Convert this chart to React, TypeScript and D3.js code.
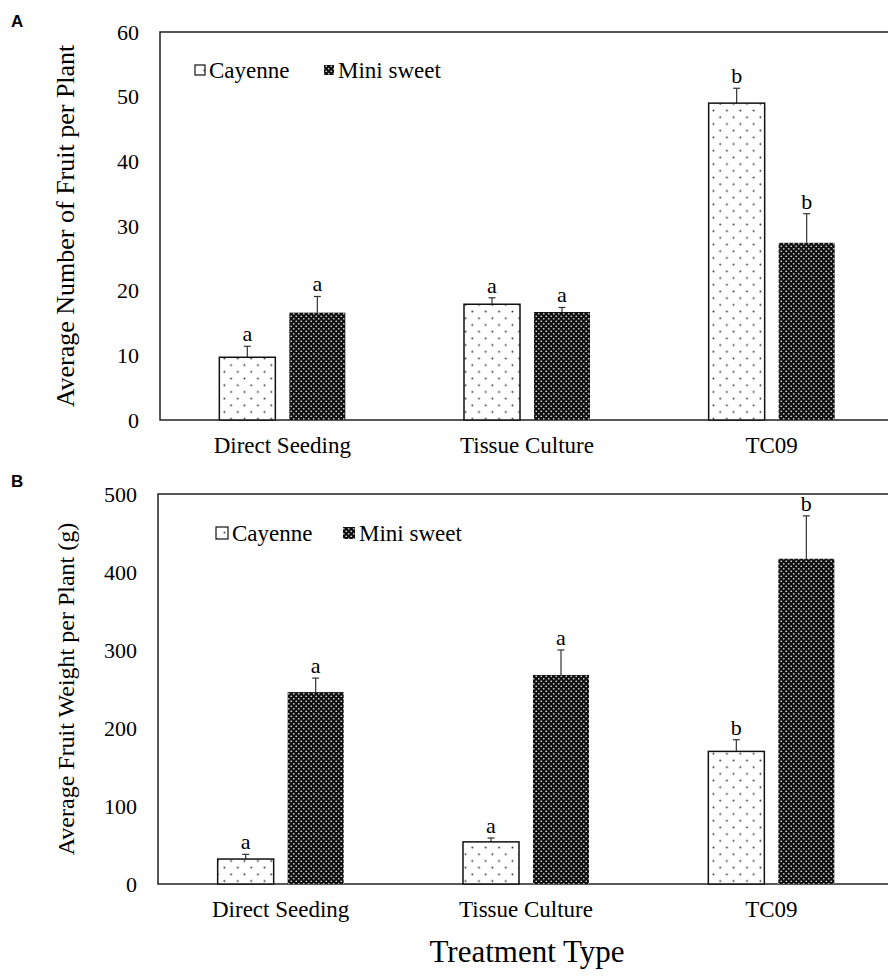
import React from "react"
import { scaleBand, scaleLinear } from "d3"

const categories = ["Direct Seeding", "Tissue Culture", "TC09"]
const seriesNames = ["Cayenne", "Mini sweet"]

// panel A: average number of fruit per plant
const countCayenne = [9.7, 17.9, 49.0]
const countCayenneErr = [1.7, 1.0, 2.3]
const countMini = [16.6, 16.7, 27.4]
const countMiniErr = [2.5, 0.7, 4.5]
const countCayenneLetters = ["a", "a", "b"]
const countMiniLetters = ["a", "a", "b"]
const countTicks = [0, 10, 20, 30, 40, 50, 60]

// panel B: average fruit weight per plant (g)
const weightCayenne = [32, 54, 170]
const weightCayenneErr = [6, 5, 15]
const weightMini = [246, 268, 417]
const weightMiniErr = [18, 32, 55]
const weightCayenneLetters = ["a", "a", "b"]
const weightMiniLetters = ["a", "a", "b"]
const weightTicks = [0, 100, 200, 300, 400, 500]

const serif = "'Liberation Serif', 'Times New Roman', serif"

const Panel = ({ top, bottom, axisX, maxY, ticks, yTitle, titleSize, legend, cay, cayErr, mini, miniErr, cayLetters, miniLetters, tag, tagY }) => {
	const right = 894
	const xScale = scaleBand().domain(categories).range([axisX, right])
	const inner = scaleBand().domain(seriesNames).range([-63, 63]).paddingInner(0.2)
	const yScale = scaleLinear().domain([0, maxY]).range([bottom, top])

	const series = [
		{ name: seriesNames[0], values: cay, errs: cayErr, letters: cayLetters, fill: "url(#dots-light)", stroke: "#111" },
		{ name: seriesNames[1], values: mini, errs: miniErr, letters: miniLetters, fill: "url(#dots-dark)", stroke: "none" },
	]

	return (
		<g>
			<text x={11} y={tagY} fontFamily="'Liberation Sans', Arial, sans-serif" fontWeight="bold" fontSize={17}>{tag}</text>
			{/* plot frame */}
			<rect x={axisX} y={top} width={right - axisX + 10} height={bottom - top} fill="none" stroke="#222" strokeWidth={1.5} />
			{ticks.map(t => (
				<text key={t} x={axisX - 21} y={yScale(t)} dy="0.35em" textAnchor="end" fontFamily={serif} fontSize={22}>{t}</text>
			))}
			<text transform={`translate(74, ${(top + bottom) / 2}) rotate(-90)`} textAnchor="middle" fontFamily={serif} fontSize={titleSize}>{yTitle}</text>
			{categories.map(c => (
				<text key={c} x={xScale(c) + xScale.bandwidth() / 2} y={bottom + 33} textAnchor="middle" fontFamily={serif} fontSize={23}>{c}</text>
			))}
			{series.map(s => (
				<g key={s.name}>
					{categories.map((c, i) => {
						const cx = xScale(c) + xScale.bandwidth() / 2
						const x0 = cx + inner(s.name)
						const w = inner.bandwidth()
						const mid = x0 + w / 2
						const yTop = yScale(s.values[i])
						const yErr = yScale(s.values[i] + s.errs[i])
						return (
							<g key={c}>
								<line x1={mid} x2={mid} y1={yTop} y2={yErr} stroke="#333" strokeWidth={1.2} />
								<line x1={mid - 3.5} x2={mid + 3.5} y1={yErr} y2={yErr} stroke="#333" strokeWidth={1.2} />
								<rect x={x0} y={yTop} width={w} height={bottom - yTop} fill={s.fill} stroke={s.stroke} strokeWidth={1.5} />
								<text x={mid} y={yErr - 5} textAnchor="middle" fontFamily={serif} fontSize={22}>{s.letters[i]}</text>
							</g>
						)
					})}
				</g>
			))}
			{/* legend */}
			<rect x={legend.x} y={legend.y - legend.box / 2} width={legend.box} height={legend.box} fill="url(#dots-light)" stroke="#111" strokeWidth={1.2} />
			<text x={legend.x + legend.box + 4} y={legend.y} dy="0.35em" fontFamily={serif} fontSize={23}>{seriesNames[0]}</text>
			<rect x={legend.x2} y={legend.y - legend.box / 2} width={legend.box} height={legend.box} fill="url(#dots-dark)" />
			<text x={legend.x2 + legend.box + 4} y={legend.y} dy="0.35em" fontFamily={serif} fontSize={23}>{seriesNames[1]}</text>
		</g>
	)
}

export default function App() {
	return (
		<svg width={888} height={979} style={{ position: "absolute", left: 0, top: 0, background: "#fff" }}>
			<defs>
				<pattern id="dots-light" width={13.4} height={13.4} patternUnits="userSpaceOnUse">
					<rect width={13.4} height={13.4} fill="#fff" />
					<circle cx={3.3} cy={3.3} r={0.95} fill="#333" />
					<circle cx={10} cy={10} r={0.95} fill="#333" />
				</pattern>
				<pattern id="dots-dark" width={5} height={5} patternUnits="userSpaceOnUse">
					<rect width={5} height={5} fill="#111" />
					<circle cx={1.25} cy={1.25} r={0.85} fill="#ddd" />
					<circle cx={3.75} cy={3.75} r={0.85} fill="#ddd" />
				</pattern>
			</defs>
			<Panel tag="A" tagY={27} top={32} bottom={420} axisX={160} maxY={60} ticks={countTicks}
				yTitle="Average Number of Fruit per Plant" titleSize={26}
				legend={{ x: 195, x2: 324, y: 70, box: 10 }}
				cay={countCayenne} cayErr={countCayenneErr} mini={countMini} miniErr={countMiniErr}
				cayLetters={countCayenneLetters} miniLetters={countMiniLetters} />
			<Panel tag="B" tagY={487} top={494} bottom={884} axisX={158} maxY={500} ticks={weightTicks}
				yTitle="Average Fruit Weight per Plant (g)" titleSize={24}
				legend={{ x: 216, x2: 343, y: 533, box: 12 }}
				cay={weightCayenne} cayErr={weightCayenneErr} mini={weightMini} miniErr={weightMiniErr}
				cayLetters={weightCayenneLetters} miniLetters={weightMiniLetters} />
			<text x={527} y={962} textAnchor="middle" fontFamily={serif} fontSize={31}>Treatment Type</text>
		</svg>
	)
}
